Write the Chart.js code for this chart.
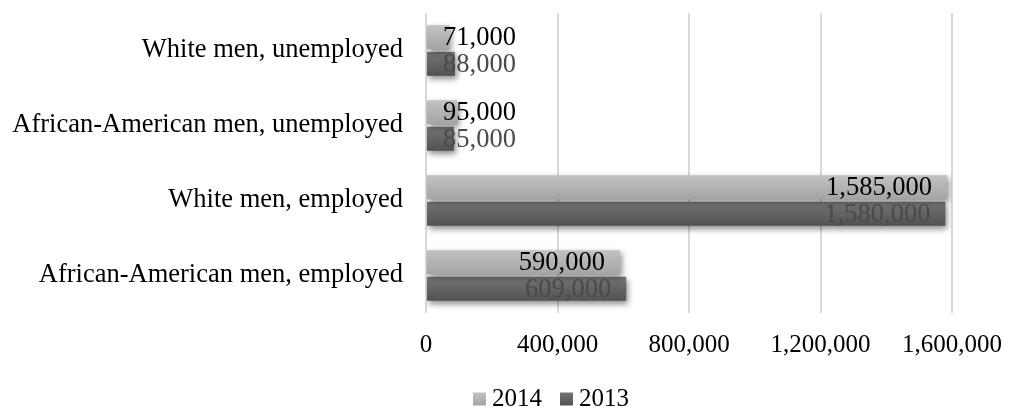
<!DOCTYPE html>
<html>
<head>
<meta charset="utf-8">
<script src="https://cdn.jsdelivr.net/npm/chart.js@4.4.1/dist/chart.umd.min.js"></script>
<style>
    html, body { margin: 0; padding: 0; background: #ffffff; }
    #wrap { width: 1009px; height: 409px; position: relative; }
</style>
</head>
<body>
<div id="wrap"><canvas id="barChart"></canvas></div>
<script>
// ----------------------
//  DATA
// ----------------------
const categories = [
    'White men, unemployed',
    'African-American men, unemployed',
    'White men, employed',
    'African-American men, employed'
];
const seriesLabels = ['2014', '2013'];
const values2014 = [71000, 95000, 1585000, 590000];
const values2013 = [88000, 85000, 1580000, 609000];
const xTickValues = [0, 400000, 800000, 1200000, 1600000];

// ----------------------
//  STYLE
// ----------------------
const FONT = '"Liberation Serif", "Times New Roman", serif';
const barTop = ['#c2c2c2', '#747474'];
const barBottom = ['#a4a4a4', '#525252'];
const labelColors = ['#000000', '#4a4a4a'];

function vGradient(c, di, y0, y1) {
    const g = c.createLinearGradient(0, y0, 0, y1);
    g.addColorStop(0, barTop[di]);
    g.addColorStop(1, barBottom[di]);
    return g;
}

// vertical gradient per bar, uses the bar position from the previous layout pass
function barFill(di) {
    return function (context) {
        const el = context.element;
        if (!el || !el.height) return barBottom[di];
        return vGradient(context.chart.ctx, di, el.y - el.height / 2, el.y + el.height / 2);
    };
}

// shadow under the bars, value labels at the inside end, legend
const barExtras = {
    id: 'barExtras',
    beforeDatasetsDraw(chart) {
        const c = chart.ctx;
        c.save();
        c.shadowColor = 'rgba(0, 0, 0, 0.45)';
        c.shadowBlur = 6;
        c.shadowOffsetX = 2;
        c.shadowOffsetY = 3;
    },
    afterDatasetsDraw(chart) {
        const c = chart.ctx;
        c.restore();
        c.save();
        c.font = '26.5px ' + FONT;
        c.textAlign = 'right';
        c.textBaseline = 'middle';
        chart.data.datasets.forEach(function (ds, di) {
            chart.getDatasetMeta(di).data.forEach(function (bar, i) {
                const text = ds.data[i].toLocaleString('en-US');
                const w = c.measureText(text).width;
                let right = bar.x - 15;
                if (right - w < bar.base + 16) right = bar.base + 16 + w;
                c.fillStyle = labelColors[di];
                c.fillText(text, right, bar.y + 1);
            });
        });
        c.restore();
    },
    afterDraw(chart) {
        // legend: small squares, tight gap, centred a bit right of the canvas middle
        const c = chart.ctx;
        c.save();
        c.font = '25px ' + FONT;
        c.textBaseline = 'middle';
        c.textAlign = 'left';
        const box = 13, gap = 6, itemGap = 18, cy = 399;
        const widths = chart.data.datasets.map(ds => box + gap + c.measureText(ds.label).width);
        const total = widths.reduce((a, b) => a + b, 0) + itemGap * (widths.length - 1);
        let x = 551 - total / 2;
        chart.data.datasets.forEach(function (ds, di) {
            c.fillStyle = vGradient(c, di, cy - box / 2, cy + box / 2);
            c.fillRect(x, cy - box / 2, box, box);
            c.fillStyle = '#000000';
            c.fillText(ds.label, x + box + gap, cy);
            x += widths[di] + itemGap;
        });
        c.restore();
    }
};

// ----------------------
//  CHART
// ----------------------
const options = {
    indexAxis: 'y',
    responsive: true,
    maintainAspectRatio: false,
    animation: false,
    devicePixelRatio: 1,
    layout: {
        padding: { top: 13, right: 57, bottom: 32, left: 0 }
    },
    datasets: {
        bar: {
            categoryPercentage: 0.71,
            barPercentage: 0.9,
        }
    },
    scales: {
        x: {
            min: 0,
            max: 1600000,
            afterBuildTicks: function (scale) {
                scale.ticks = xTickValues.map(v => ({ value: v }));
            },
            afterFit: function (scale) {
                scale.paddingLeft = 0;
                scale.paddingRight = 0;
            },
            ticks: {
                color: '#000000',
                padding: 17,
                font: { family: FONT, size: 25 },
                callback: function (value) {
                    return value.toLocaleString('en-US');
                }
            },
            grid: {
                display: true,
                drawTicks: false,
                color: '#d9d9d9',
                lineWidth: 2,
            },
            border: { display: false }
        },
        y: {
            afterFit: function (scale) {
                scale.width = 426;
                scale.paddingTop = 0;
                scale.paddingBottom = 0;
            },
            ticks: {
                color: '#000000',
                padding: 23,
                font: { family: FONT, size: 26.5 },
            },
            grid: { display: false, drawTicks: false },
            border: { display: false }
        }
    },
    plugins: {
        legend: { display: false },
        tooltip: { enabled: false }
    }
};

const chartData = {
    labels: categories,
    datasets: [{
        label: seriesLabels[0],
        data: values2014,
        backgroundColor: barFill(0),
        borderWidth: 0,
    }, {
        label: seriesLabels[1],
        data: values2013,
        backgroundColor: barFill(1),
        borderWidth: 0,
    }]
};

const ctx = document.getElementById('barChart').getContext('2d');
const barChart = new Chart(ctx, {
    type: 'bar',
    data: chartData,
    options: options,
    plugins: [barExtras],
});
// second pass so the gradients know where the bars are
barChart.update();
</script>
</body>
</html>
